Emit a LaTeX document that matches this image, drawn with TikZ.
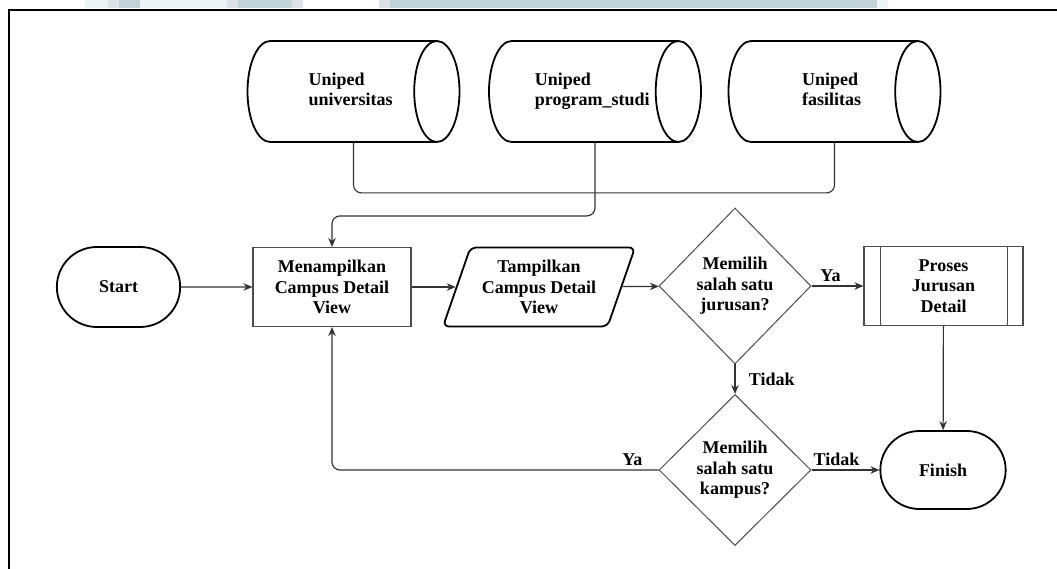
\documentclass[tikz,border=0pt]{standalone}
\usepackage{fontspec}
\setmainfont{Liberation Serif}
\usetikzlibrary{positioning,arrows.meta,shapes.geometric,shapes.misc}
\definecolor{wmblue}{HTML}{C2D3D8}
\definecolor{wmpale}{HTML}{EDF4F6}
\definecolor{wmgrey}{HTML}{DCE3E6}
\definecolor{lineg}{HTML}{333333}
\newcommand{\dbname}[1]{\hspace*{26pt}\begin{tabular}{@{}l@{}}#1\end{tabular}}
\tikzset{
    every node/.style={font=\fontsize{18}{20.5}\selectfont\bfseries},
    terminal/.style={rounded rectangle,draw,line width=1.8pt,minimum width=130pt,minimum height=80pt},
    procbox/.style={rectangle,draw=black!70,line width=1.1pt,minimum width=158pt,minimum height=79pt,align=center},
    iobox/.style={trapezium,trapezium left angle=63,trapezium right angle=117,trapezium stretches body,draw,line width=1.8pt,rounded corners=6pt,minimum width=192pt,minimum height=79pt,align=center,inner sep=0pt},
    choice/.style={diamond,aspect=1,draw=black!70,line width=1pt,inner sep=0pt,align=center,minimum width=152pt},
    subproc/.style={procbox,minimum width=159pt,path picture={
        \draw[black!70,line width=0.9pt]
            ([xshift=16pt]path picture bounding box.north west) -- ([xshift=16pt]path picture bounding box.south west)
            ([xshift=-16pt]path picture bounding box.north east) -- ([xshift=-16pt]path picture bounding box.south east);}},
    dbase/.style={cylinder,draw,line width=1.8pt,aspect=0.95,minimum width=101pt,minimum height=212pt,anchor=shape center},
    flow/.style={draw=lineg,line width=1.2pt,-{Stealth[length=9pt,width=7.5pt]}},
    link/.style={draw=lineg,line width=1.1pt},
}

\begin{document}
\begin{tikzpicture}[x=1pt,y=-1pt]
    \useasboundingbox (0,0) rectangle (1057,569);
    \foreach \a/\b/\c in {85/108/wmpale,108/119/wmgrey,119/140/wmblue,140/227/wmpale,227/238/wmgrey,238/292/wmblue,292/303/wmgrey,379/390/wmgrey,390/877/wmblue,877/888/wmpale}
        \fill[\c] (\a,0) rectangle (\b,8);
    \draw[line width=2.4pt] (9,569) -- (9,10) -- (1057,10);

    \foreach \n/\x/\t in {univ/353.5/{Uniped\\universitas},prodi/595/{Uniped\\program\_studi},fasil/834.5/{Uniped\\fasilitas}}
        \node[dbase] (\n) at (\x,91.5) {\dbname{\t}};

    \node[terminal] (start) at (118.5,287) {Start};
    \node[procbox] (menampil) at (332,287) {Menampilkan\\Campus Detail\\View};
    \node[iobox] (tampil) at (539,287) {Tampilkan\\Campus Detail\\View};
    \node[choice,minimum height=156pt] (pilihjur) at (735,286) {Memilih\\salah satu\\jurusan?};
    \node[subproc] (proses) at (943.5,286) {Proses\\Jurusan\\Detail};
    \node[choice,minimum height=151pt] (pilihkamp) at (735,470) {Memilih\\salah satu\\kampus?};
    \node[terminal,minimum width=132pt,minimum height=78pt] (finish) at (943,470) {Finish};

    \draw[link,rounded corners=8pt] (univ.shape center |- univ.south) -- ++(0,50) -| (fasil.shape center |- fasil.south);
    \draw[flow,rounded corners=8pt] (prodi.shape center |- prodi.south) -- ++(0,73) -| (menampil.north);
    \draw[flow] (start) -- (menampil);
    \draw[flow] (menampil) -- (tampil);
    \draw[flow] (tampil) -- (pilihjur);
    \draw[flow] (pilihjur) -- node[above,xshift=-7pt] {Ya} (proses);
    \draw[flow] (pilihjur) -- node[right,xshift=10pt] {Tidak} (pilihkamp);
    \draw[flow] (proses) -- (finish);
    \draw[flow] (pilihkamp) -- node[above,xshift=-9pt] {Tidak} (finish);
    \draw[flow,rounded corners=8pt] (pilihkamp.west) -| node[pos=0.04,above] {Ya} (menampil.south);
\end{tikzpicture}
\end{document}
